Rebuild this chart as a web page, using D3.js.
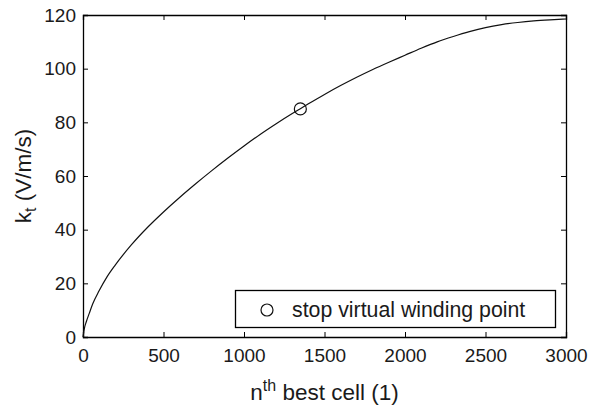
<!DOCTYPE html>
<html><head><meta charset="utf-8">
<script src="https://cdn.jsdelivr.net/npm/d3@7"></script>
<style>html,body{margin:0;padding:0;background:#fff;} svg{display:block;font-family:"Liberation Sans",Arial,Helvetica,sans-serif;}</style>
</head><body>
<script>
const cellIndex = [0,10,20,40,60,100,150,200,300,400,500,600,700,800,900,1000,1100,1200,1300,1350,1400,1500,1600,1700,1800,1900,2000,2100,2200,2300,2400,2500,2600,2700,2800,2900,3000];
const ktValues  = [0,3.6,5.6,9,12.3,17.2,22.5,26.8,34.3,40.8,46.6,52,57.1,62,66.7,71.2,75.5,79.5,83.3,85.1,86.9,90.4,93.7,96.8,99.7,102.4,105,107.6,110,112,113.8,115.3,116.4,117.2,117.8,118.2,118.5];
const stopPoint = [{x:1350, y:85}];
const xTicks = [0,500,1000,1500,2000,2500,3000];
const yTicks = [0,20,40,60,80,100,120];
const legendLabel = "stop virtual winding point";

const W=596,H=410;
const m={l:83,r:30,t:15,b:73};
const svg=d3.select("body").append("svg").attr("width",W).attr("height",H);
const x=d3.scaleLinear().domain([0,3000]).range([m.l,W-m.r]);
const y=d3.scaleLinear().domain([0,120]).range([H-m.b,m.t]);
const fmt=d3.format("d");

const g=svg.append("g");
const ax=g.append("g").attr("transform",`translate(0,${y(0)})`).call(d3.axisBottom(x).tickValues(xTicks).tickSize(-5).tickPadding(12).tickFormat(fmt));
const axT=g.append("g").attr("transform",`translate(0,${y(120)})`).call(d3.axisTop(x).tickValues(xTicks).tickSize(-5).tickFormat(""));
const ay=g.append("g").attr("transform",`translate(${x(0)},0)`).call(d3.axisLeft(y).tickValues(yTicks).tickSize(-5).tickPadding(7).tickFormat(fmt));
const ayR=g.append("g").attr("transform",`translate(${x(3000)},0)`).call(d3.axisRight(y).tickValues(yTicks).tickSize(-5).tickFormat(""));
[ax,axT,ay,ayR].forEach(a=>{a.select(".domain").attr("stroke","#000").attr("stroke-width",1.3);a.selectAll(".tick line").attr("stroke","#000");a.selectAll("text").attr("font-size",19).attr("fill","#1a1a1a").attr("font-family","Liberation Sans, Arial, sans-serif");});
ax.selectAll(".tick text").attr("dy","0.71em");

const line=d3.line().x((d,i)=>x(cellIndex[i])).y(d=>y(d)).curve(d3.curveMonotoneX);
g.append("path").datum(ktValues).attr("d",line).attr("fill","none").attr("stroke","#111").attr("stroke-width",1.2);

g.selectAll(".pt").data(stopPoint).enter().append("circle").attr("cx",d=>x(d.x)).attr("cy",d=>y(d.y)).attr("r",6).attr("fill","none").attr("stroke","#111").attr("stroke-width",1.2);

const lg=svg.append("g");
lg.append("rect").attr("x",235.5).attr("y",290.5).attr("width",320).attr("height",37).attr("fill","#fff").attr("stroke","#000").attr("stroke-width",1.3);
lg.append("circle").attr("cx",267).attr("cy",310).attr("r",6).attr("fill","none").attr("stroke","#111").attr("stroke-width",1.2);
lg.append("text").attr("x",292).attr("y",317).attr("font-size",21.3).attr("fill","#1a1a1a").text(legendLabel);

const xl=svg.append("text").attr("x",(x(0)+x(3000))/2).attr("y",400).attr("text-anchor","middle").attr("font-size",22.5).attr("fill","#1a1a1a");
xl.append("tspan").text("n");
xl.append("tspan").attr("dy",-9).attr("font-size",16).text("th");
xl.append("tspan").attr("dy",9).text(" best cell (1)");

const yl=svg.append("text").attr("transform",`translate(31,${(y(0)+y(120))/2}) rotate(-90)`).attr("text-anchor","middle").attr("font-size",22.5).attr("fill","#1a1a1a");
yl.append("tspan").text("k");
yl.append("tspan").attr("dy",5).attr("font-size",16).text("t");
yl.append("tspan").attr("dy",-5).text(" (V/m/s)");
</script>
</body></html>
